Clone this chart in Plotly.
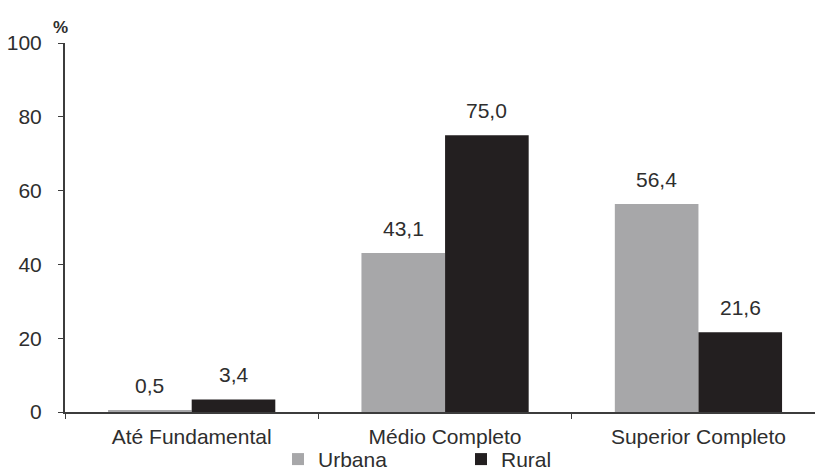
import plotly.graph_objects as go

categories = ["Até Fundamental", "Médio Completo", "Superior Completo"]
urbana = [0.5, 43.1, 56.4]
rural = [3.4, 75.0, 21.6]
series_names = ["Urbana", "Rural"]
y_ticks = [0, 20, 40, 60, 80, 100]

def fmt(v):
    return f"{v:.1f}".replace(".", ",")

TXT = "#2e2e2e"
FONT = "Liberation Sans, Arial, sans-serif"
FS = 21
BARGAP = 0.34

fig = go.Figure()
fig.add_trace(go.Bar(x=categories, y=urbana, name=series_names[0],
                     marker=dict(color="#a7a7a9", line=dict(width=0))))
fig.add_trace(go.Bar(x=categories, y=rural, name=series_names[1],
                     marker=dict(color="#231f20", line=dict(width=0))))

half = (1 - BARGAP) / 4
for i, (u, r) in enumerate(zip(urbana, rural)):
    for val, off in ((u, -half), (r, half)):
        fig.add_annotation(x=i + off, y=val, text=fmt(val), showarrow=False,
                           yanchor="bottom", yshift=11,
                           font=dict(size=FS, color=TXT, family=FONT))

fig.update_layout(
    width=815, height=470,
    margin=dict(l=65, r=0, t=43, b=58, autoexpand=False),
    paper_bgcolor="white", plot_bgcolor="white",
    barmode="group", bargap=BARGAP, bargroupgap=0,
    font=dict(family=FONT, size=FS, color=TXT),
    showlegend=True,
    legend=dict(orientation="h", x=0.528, xanchor="center", y=-0.073, yanchor="top",
                bgcolor="rgba(0,0,0,0)",
                font=dict(size=FS, color=TXT), entrywidth=138, itemsizing="constant"),
    xaxis=dict(range=[-0.5, 2.46], showline=True, linecolor="#3c3c3c", linewidth=2,
               ticks="outside", tickson="boundaries", ticklen=5, tickcolor="#3c3c3c",
               showgrid=False, ticklabelstandoff=5, tickfont=dict(size=FS, color=TXT)),
    yaxis=dict(range=[0, 100], tickvals=y_ticks, showline=True, linecolor="#3c3c3c",
               linewidth=2, ticks="outside", ticklen=5, tickcolor="#3c3c3c",
               showgrid=False, zeroline=False, ticklabelstandoff=12,
               tickfont=dict(size=FS, color=TXT)),
)
fig.add_annotation(xref="paper", yref="paper", x=0, y=1, text="<b>%</b>",
                   showarrow=False, xanchor="center", yanchor="bottom", yshift=4, xshift=-5,
                   font=dict(size=17, color=TXT, family=FONT))

fig.write_html("out.html")
